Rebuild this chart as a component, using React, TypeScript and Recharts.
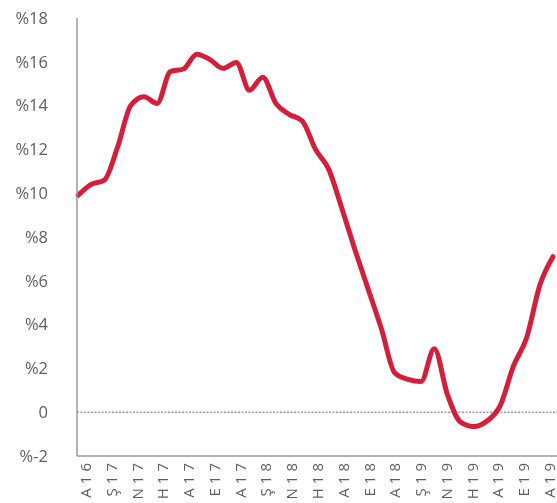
import { Line, LineChart, ReferenceLine, XAxis, YAxis } from "recharts";

// monthly, Dec 2016 .. Dec 2019
const months = [
  "Ara16", "Oca17", "Şub17", "Mar17", "Nis17", "May17", "Haz17", "Tem17", "Ağu17", "Eyl17", "Eki17", "Kas17",
  "Ara17", "Oca18", "Şub18", "Mar18", "Nis18", "May18", "Haz18", "Tem18", "Ağu18", "Eyl18", "Eki18", "Kas18",
  "Ara18", "Oca19", "Şub19", "Mar19", "Nis19", "May19", "Haz19", "Tem19", "Ağu19", "Eyl19", "Eki19", "Kas19",
  "Ara19",
];

const rates = [
  9.9, 10.4, 10.6, 12.1, 14.0, 14.4, 14.1, 15.55, 15.67, 16.35, 16.1, 15.7,
  15.97, 14.7, 15.3, 14.1, 13.6, 13.3, 12.0, 11.1, 9.3, 7.4, 5.6, 3.8,
  1.8, 1.5, 1.4, 2.9, 0.8, -0.45, -0.65, -0.4, 0.3, 2.1, 3.4, 5.8,
  7.1,
];

// one label every two months
const tickLabels = [
  "A16", "Ş17", "N17", "H17", "A17", "E17", "A17", "Ş18", "N18", "H18",
  "A18", "E18", "A18", "Ş19", "N19", "H19", "A19", "E19", "A19",
];

const yTicks = [-2, 0, 2, 4, 6, 8, 10, 12, 14, 16, 18];

const chartData = months.map((m, i) => ({ idx: i, month: m, rate: rates[i] }));
const xTicks = tickLabels.map((_, k) => k * 2);

const FONT = "'Open Sans', sans-serif";
const GREY = "#5d5e61";
const AXIS = "#9a9a9a";

function XTick(props: any) {
  const { x, y, payload } = props;
  const k = Math.round(payload.value / 2);
  // labels in the original sit on a slightly tighter spacing than the data points
  const shift = 13 - (11 * k) / (tickLabels.length - 1);
  return (
    <text
      x={x}
      y={y}
      dx={5}
      dy={shift}
      transform={`rotate(-90 ${x} ${y})`}
      textAnchor="end"
      fontFamily={FONT}
      fontSize={15}
      letterSpacing={4}
      fill={GREY}
    >
      {tickLabels[k]}
    </text>
  );
}

export default function App() {
  return (
    <div style={{ position: "fixed", left: 0, top: 0 }}>
      <LineChart
        width={557}
        height={503}
        data={chartData}
        margin={{ top: 18, right: 0, bottom: 0, left: 0 }}
      >
        <XAxis
          dataKey="idx"
          type="number"
          domain={[0, 36]}
          ticks={xTicks}
          interval={0}
          height={47}
          padding={{ left: 1, right: 4 }}
          axisLine={{ stroke: AXIS, strokeWidth: 1.5 }}
          tickLine={false}
          tick={<XTick />}
        />
        <YAxis
          type="number"
          domain={[-2, 18]}
          ticks={yTicks}
          interval={0}
          width={77}
          axisLine={{ stroke: AXIS, strokeWidth: 1.5 }}
          tickLine={false}
          tickSize={6}
          tickMargin={23}
          tick={{ fontFamily: FONT, fontSize: 16.5, fill: GREY }}
          tickFormatter={(v: number) => (v === 0 ? "0" : `%${v}`)}
        />
        <ReferenceLine y={0} stroke="#666" strokeWidth={1} strokeDasharray="2 1.5" />
        <Line
          type="monotone"
          dataKey="rate"
          stroke="#d41f3a"
          strokeWidth={5}
          strokeLinecap="round"
          dot={false}
          activeDot={false}
          isAnimationActive={false}
        />
      </LineChart>
    </div>
  );
}
